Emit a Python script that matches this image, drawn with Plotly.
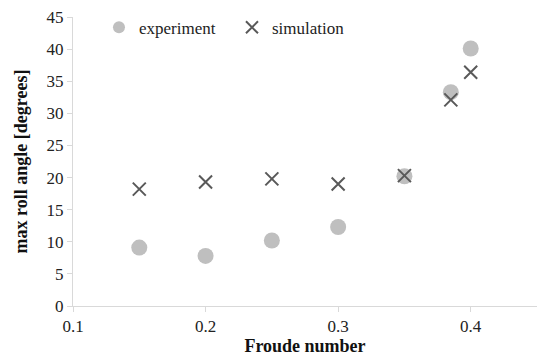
import plotly.graph_objects as go

froude = [0.15, 0.2, 0.25, 0.3, 0.35, 0.385, 0.4]
experiment = [9.1, 7.8, 10.2, 12.3, 20.2, 33.3, 40.1]
simulation = [18.2, 19.3, 19.8, 19.0, 20.3, 32.1, 36.4]

font = "Liberation Serif"
tick_font = dict(family=font, size=17, color="#222222")
title_font = dict(family=font, size=18, color="#111111")

fig = go.Figure()
fig.add_trace(go.Scatter(
    x=froude, y=experiment, mode="markers", name="experiment",
    marker=dict(symbol="circle", size=16, color="#bfbfbf"),
))
fig.add_trace(go.Scatter(
    x=froude, y=simulation, mode="markers", name="simulation",
    marker=dict(symbol="x-thin", size=13, color="#595959",
                line=dict(width=2, color="#595959")),
))

fig.update_layout(
    width=538, height=362,
    margin=dict(l=73, r=1, t=17, b=56),
    paper_bgcolor="white", plot_bgcolor="white",
    font=dict(family=font, size=16, color="#222222"),
    legend=dict(orientation="h", x=0.056, y=1.025, xanchor="left", yanchor="top",
                font=dict(family=font, size=17, color="#222222"),
                bgcolor="rgba(0,0,0,0)", itemwidth=30,
                entrywidth=88, entrywidthmode="pixels", itemsizing="constant"),
    xaxis=dict(
        range=[0.1, 0.45], tickvals=[0.1, 0.2, 0.3, 0.4], ticktext=["0.1", "0.2", "0.3", "0.4"],
        showgrid=False, zeroline=False, showline=True, linecolor="#d9d9d9", linewidth=1,
        ticks="outside", ticklen=5, tickcolor="#d9d9d9", tickfont=tick_font,
        title=dict(text="<b>Froude number</b>", font=title_font, standoff=3),
    ),
    yaxis=dict(
        range=[0, 45], dtick=5, showgrid=False, zeroline=False, showline=True,
        linecolor="#d9d9d9", linewidth=1, ticks="outside", ticklen=5, tickcolor="#d9d9d9",
        tickfont=tick_font,
        title=dict(text="<b>max roll angle [degrees]</b>", font=title_font, standoff=14),
    ),
)

fig.write_html("out.html")
